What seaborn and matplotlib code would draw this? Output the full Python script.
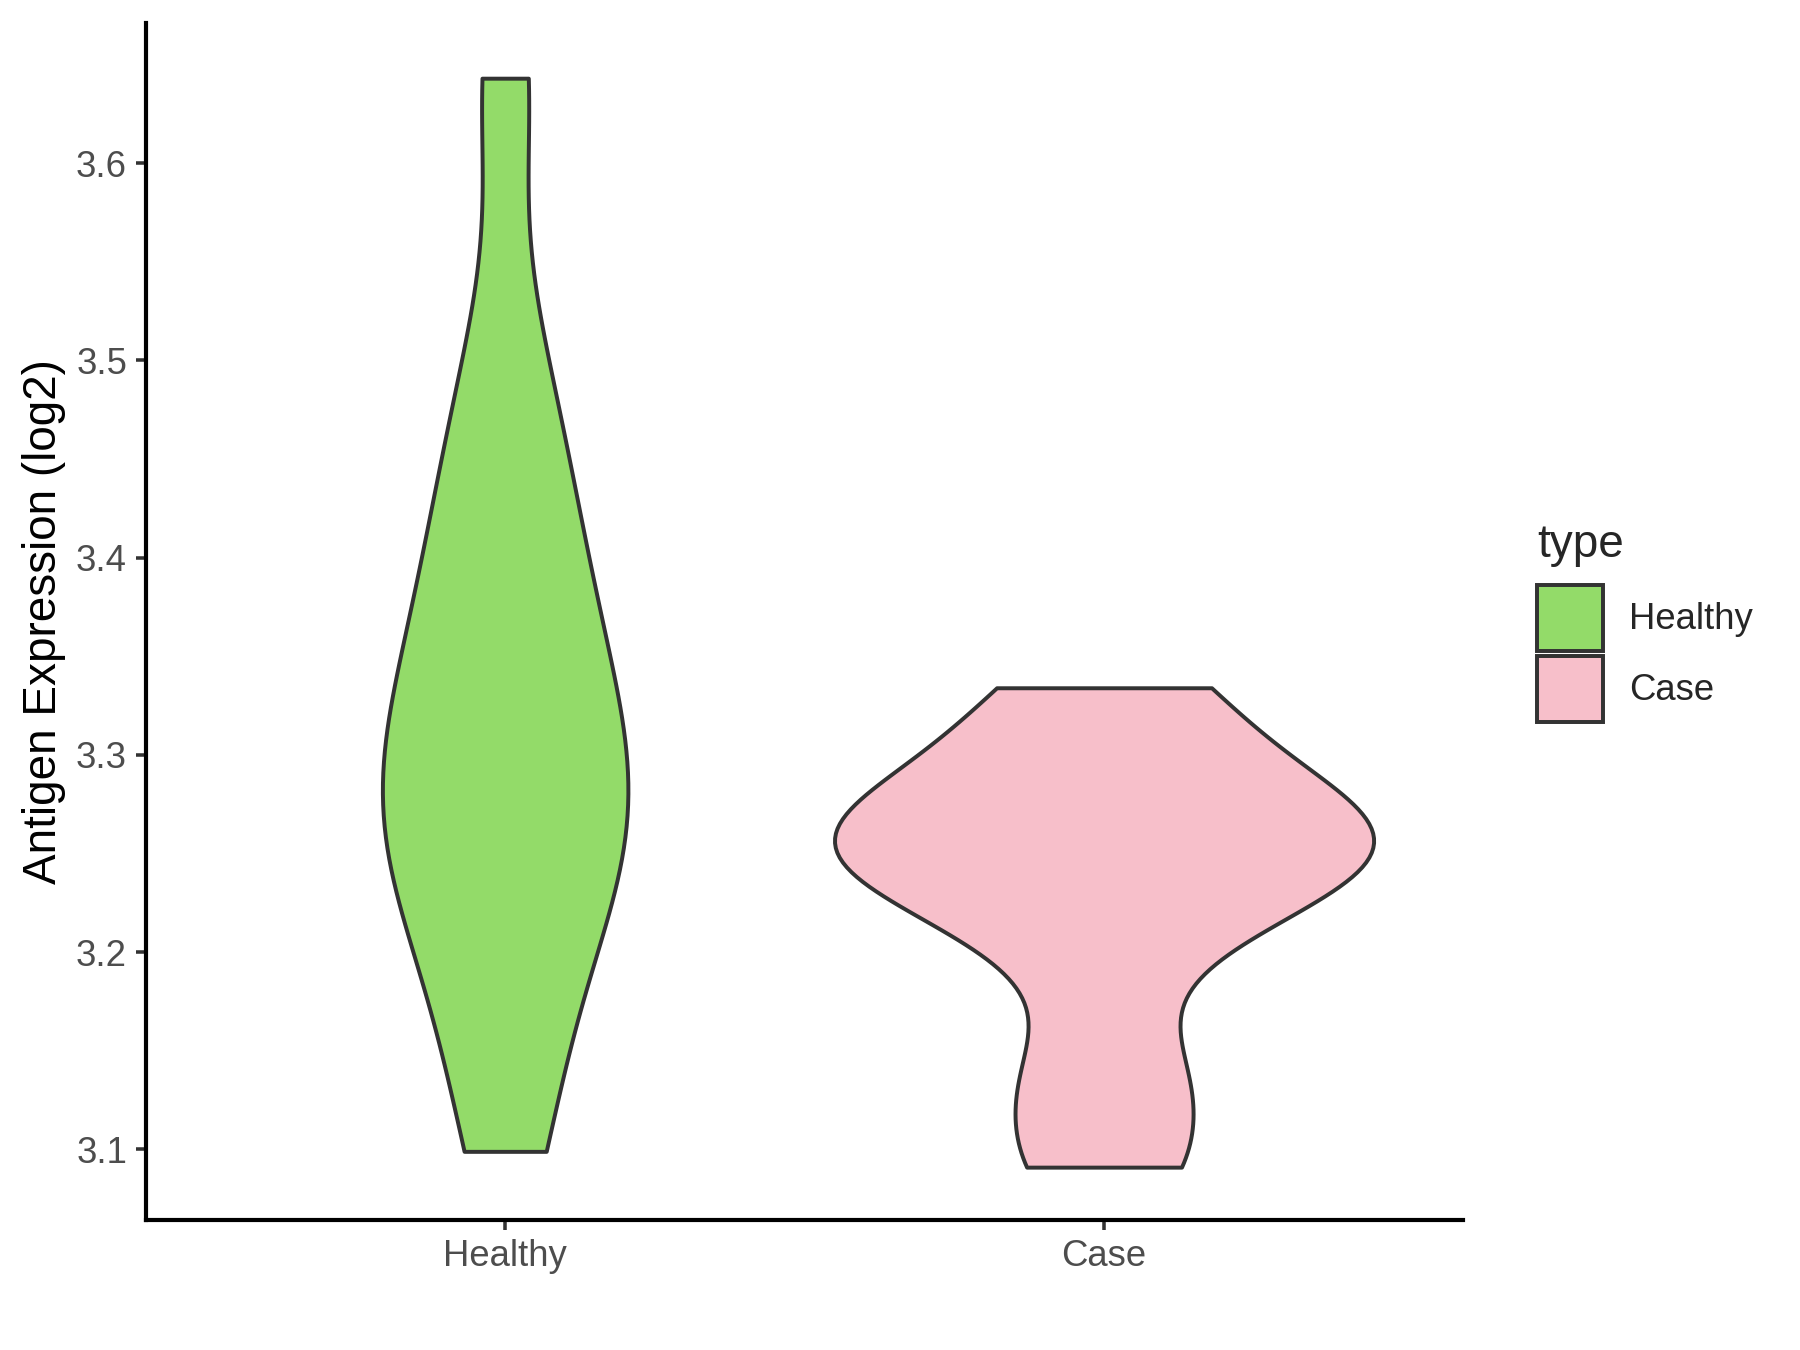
import matplotlib
matplotlib.use("Agg")
import numpy as np
import pandas as pd
import seaborn as sns
import matplotlib.pyplot as plt
from matplotlib.patches import Patch

# --- dados ---
groups = ["Healthy", "Case"]
healthy_vals = [3.099, 3.16, 3.21, 3.24, 3.26, 3.28, 3.30, 3.33, 3.36, 3.40, 3.44, 3.50, 3.643]
case_vals = [3.091, 3.14, 3.21, 3.24, 3.25, 3.26, 3.27, 3.30, 3.334]
bandwidths = {"Healthy": 0.06, "Case": 0.032}
colors = {"Healthy": "#93DB69", "Case": "#F7BFCA"}
y_ticks = [3.1, 3.2, 3.3, 3.4, 3.5, 3.6]

data = {"Healthy": healthy_vals, "Case": case_vals}
df = pd.DataFrame({
    "type": ["Healthy"] * len(healthy_vals) + ["Case"] * len(case_vals),
    "value": healthy_vals + case_vals,
})


def kde_peak(vals, bw):
    """Pico da densidade gaussiana (para escalar as larguras como area)."""
    v = np.asarray(vals)
    grid = np.linspace(v.min(), v.max(), 400)
    dens = np.exp(-0.5 * ((grid[:, None] - v[None, :]) / bw) ** 2).sum(axis=1)
    return (dens / (len(v) * bw * np.sqrt(2 * np.pi))).max()


peaks = {g: kde_peak(data[g], bandwidths[g]) for g in groups}
top_peak = max(peaks.values())

sns.set_style("white")
plt.rcParams["font.family"] = ["Liberation Sans", "DejaVu Sans"]

fig = plt.figure(figsize=(12, 9), dpi=150)
ax = fig.add_axes([0.081, 0.096, 0.732, 0.887])

for g in groups:
    sub = df[df["type"] == g]
    factor = bandwidths[g] / np.std(data[g], ddof=1)
    sns.violinplot(
        data=sub, x="type", y="value", order=groups, color=colors[g], saturation=1,
        cut=0, inner=None, width=0.9 * peaks[g] / top_peak, bw_method=factor,
        linecolor="#333333", linewidth=1.9, ax=ax,
    )

ax.set_xlim(-0.6, 1.6)
ax.set_ylim(3.064, 3.671)
ax.set_yticks(y_ticks)
ax.set_yticklabels([f"{t:.1f}" for t in y_ticks])
ax.set_xlabel("")
ax.set_ylabel("Antigen Expression (log2)", fontsize=22, color="black", labelpad=5)
ax.tick_params(axis="both", labelsize=17.5, labelcolor="#4D4D4D", color="#333333",
               length=5, width=1.7, left=True, bottom=True, pad=4)

for side in ["top", "right"]:
    ax.spines[side].set_visible(False)
for side in ["left", "bottom"]:
    ax.spines[side].set_color("black")
    ax.spines[side].set_linewidth(2.0)

handles = [Patch(facecolor=colors[g], edgecolor="#333333", linewidth=1.9, label=g) for g in groups]
leg = fig.legend(handles=handles, title="type", loc="upper left",
                 bbox_to_anchor=(0.844, 0.626), frameon=False, fontsize=17.5,
                 title_fontsize=22, handlelength=1.8, handleheight=2.4,
                 labelspacing=0.14, handletextpad=0.72, borderpad=0)
leg._legend_box.align = "left"
leg._legend_box.sep = 8.5

fig.savefig("out.png", dpi=150)
